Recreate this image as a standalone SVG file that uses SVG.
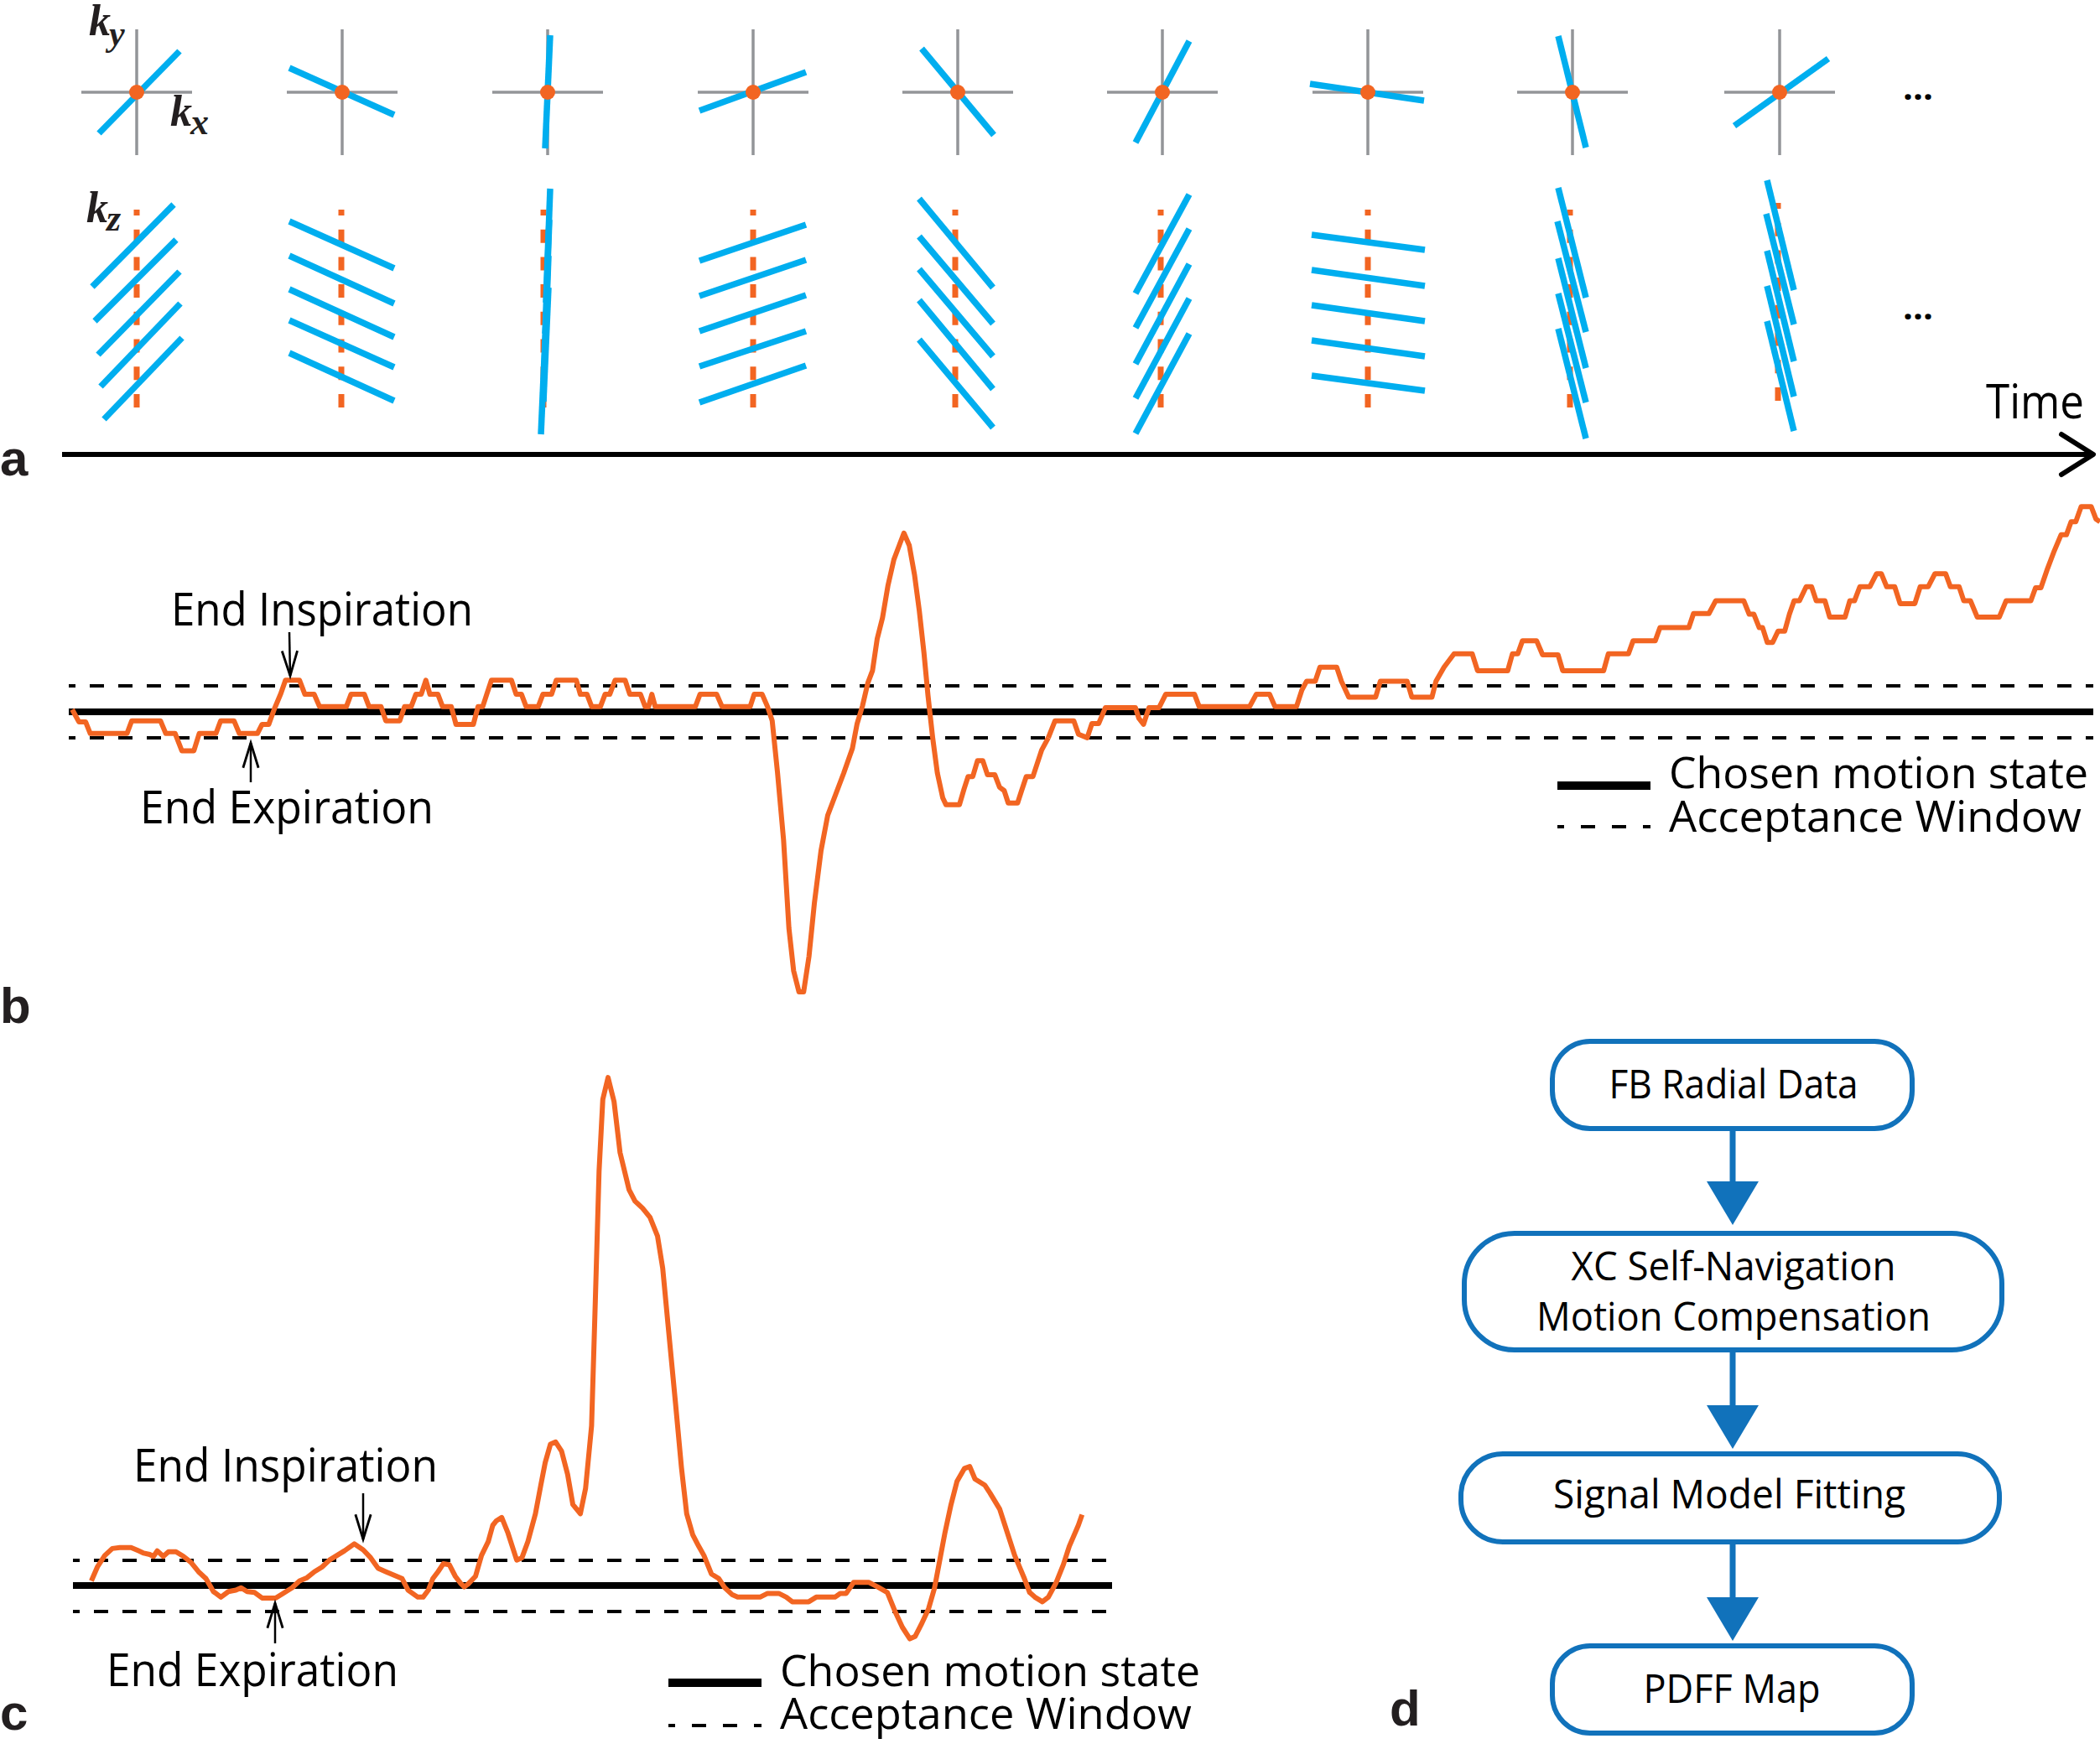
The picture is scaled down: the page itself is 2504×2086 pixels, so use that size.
<svg xmlns="http://www.w3.org/2000/svg" width="2504" height="2086" viewBox="0 0 2504 2086">
<style>
.lbl{font-family:"Liberation Sans",Arial,sans-serif;font-weight:bold;font-size:60px;fill:#231f20}
.t{font-family:"Open Sans","Noto Sans",sans-serif;fill:#000}
.k{font-family:"Liberation Serif","Times New Roman",serif;font-style:italic;font-weight:bold;font-size:52px;fill:#231f20}
.ax{stroke:#939598;stroke-width:3.5}
.ray{stroke:#00aeef;stroke-width:7.5;stroke-linecap:butt}
.kz{stroke:#f26522;stroke-width:7;stroke-dasharray:16 16.7;stroke-dashoffset:9}
.sig{fill:none;stroke:#f26522;stroke-width:6;stroke-linejoin:round;vector-effect:non-scaling-stroke}
.solid{stroke:#000;stroke-width:8}
.dash{stroke:#000;stroke-width:4;stroke-dasharray:17 17;stroke-dashoffset:9}
.thin{stroke:#000;stroke-width:2.5;fill:none}
.box{fill:#fff;stroke:#1172bb;stroke-width:6}
.flow{stroke:#1172bb;stroke-width:7}
.tri{fill:#1172bb}
</style>
<defs>
<marker id="ah" markerUnits="userSpaceOnUse" markerWidth="40" markerHeight="40" viewBox="-30 -15 35 30" refX="0" refY="0" orient="auto">
<path d="M-26,-8 L0,0 L-26,8" fill="none" stroke="#000" stroke-width="2.5"/>
</marker>
</defs>

<!-- panel labels -->
<text class="lbl" x="0" y="567">a</text>
<text class="lbl" x="0" y="1220">b</text>
<text class="lbl" x="0" y="2063">c</text>
<text class="lbl" x="1657" y="2058">d</text>

<!-- panel a: top row crosses -->
<g id="cross-row">
<g class="ax">
<line x1="97" y1="110" x2="229" y2="110"/><line x1="163" y1="35" x2="163" y2="185"/>
<line x1="342" y1="110" x2="474" y2="110"/><line x1="408" y1="35" x2="408" y2="185"/>
<line x1="587" y1="110" x2="719" y2="110"/><line x1="653" y1="35" x2="653" y2="185"/>
<line x1="832" y1="110" x2="964" y2="110"/><line x1="898" y1="35" x2="898" y2="185"/>
<line x1="1076" y1="110" x2="1208" y2="110"/><line x1="1142" y1="35" x2="1142" y2="185"/>
<line x1="1320" y1="110" x2="1452" y2="110"/><line x1="1386" y1="35" x2="1386" y2="185"/>
<line x1="1565" y1="110" x2="1697" y2="110"/><line x1="1631" y1="35" x2="1631" y2="185"/>
<line x1="1809" y1="110" x2="1941" y2="110"/><line x1="1875" y1="35" x2="1875" y2="185"/>
<line x1="2056" y1="110" x2="2188" y2="110"/><line x1="2122" y1="35" x2="2122" y2="185"/>
</g>
<g class="ray">
<line x1="118" y1="159" x2="214" y2="61"/>
<line x1="345" y1="81" x2="470" y2="137"/>
<line x1="656" y1="42" x2="650" y2="177"/>
<line x1="834" y1="132" x2="961" y2="86"/>
<line x1="1099" y1="58" x2="1185" y2="161"/>
<line x1="1418" y1="49" x2="1354" y2="170"/>
<line x1="1562" y1="100" x2="1698" y2="120"/>
<line x1="1858" y1="43" x2="1891" y2="176"/>
<line x1="2180" y1="70" x2="2068" y2="150"/>
</g>
<g fill="#f26522">
<circle cx="163" cy="110" r="9"/><circle cx="408" cy="110" r="9"/><circle cx="653" cy="110" r="9"/>
<circle cx="898" cy="110" r="9"/><circle cx="1142" cy="110" r="9"/><circle cx="1386" cy="110" r="9"/>
<circle cx="1631" cy="110" r="9"/><circle cx="1875" cy="110" r="9"/><circle cx="2122" cy="110" r="9"/>
</g>
<text class="k" x="106" y="42">k<tspan font-size="42" dx="-2" dy="12">y</tspan></text>
<text class="k" x="203" y="150">k<tspan font-size="44" dx="-2" dy="10">x</tspan></text>
<text class="t" x="2287" y="119" font-size="42" font-weight="bold" text-anchor="middle">...</text>
</g>

<!-- panel a: kz row -->
<g id="kz-row">
<g class="kz">
<line x1="163" y1="250" x2="163" y2="500"/>
<line x1="407" y1="250" x2="407" y2="500"/>
<line x1="648" y1="250" x2="648" y2="500"/>
<line x1="898" y1="250" x2="898" y2="500"/>
<line x1="1139" y1="250" x2="1139" y2="500"/>
<line x1="1384" y1="250" x2="1384" y2="500"/>
<line x1="1631" y1="250" x2="1631" y2="500"/>
<line x1="1872" y1="250" x2="1872" y2="500"/>
<line x1="2120" y1="242" x2="2120" y2="491"/>
</g>
<g class="ray">
<line x1="110" y1="342" x2="207" y2="244"/><line x1="113" y1="383" x2="210" y2="286"/><line x1="117" y1="423" x2="214" y2="324"/><line x1="120" y1="461" x2="215" y2="362"/><line x1="124" y1="500" x2="217" y2="403"/>
<line x1="345" y1="264" x2="470" y2="320"/><line x1="345" y1="305" x2="470" y2="362"/><line x1="345" y1="345" x2="470" y2="402"/><line x1="345" y1="382" x2="470" y2="438"/><line x1="345" y1="421" x2="470" y2="478"/>
<line x1="656" y1="225" x2="651" y2="361"/><line x1="655" y1="262" x2="650" y2="398"/><line x1="654" y1="305" x2="649" y2="441"/><line x1="654" y1="343" x2="648" y2="479"/><line x1="651" y1="382" x2="645" y2="518"/>
<line x1="834" y1="311" x2="961" y2="268"/><line x1="834" y1="353" x2="961" y2="310"/><line x1="834" y1="395" x2="961" y2="352"/><line x1="834" y1="437" x2="961" y2="395"/><line x1="834" y1="480" x2="961" y2="436"/>
<line x1="1096" y1="237" x2="1184" y2="343"/><line x1="1096" y1="282" x2="1184" y2="386"/><line x1="1096" y1="321" x2="1184" y2="425"/><line x1="1096" y1="358" x2="1184" y2="464"/><line x1="1096" y1="405" x2="1184" y2="510"/>
<line x1="1354" y1="350" x2="1418" y2="232"/><line x1="1354" y1="391" x2="1418" y2="273"/><line x1="1354" y1="434" x2="1418" y2="315"/><line x1="1354" y1="475" x2="1418" y2="356"/><line x1="1354" y1="517" x2="1418" y2="398"/>
<line x1="1564" y1="280" x2="1699" y2="298"/><line x1="1564" y1="322" x2="1699" y2="341"/><line x1="1564" y1="364" x2="1699" y2="383"/><line x1="1564" y1="406" x2="1699" y2="425"/><line x1="1564" y1="448" x2="1699" y2="466"/>
<line x1="1858" y1="224" x2="1891" y2="355"/><line x1="1857" y1="264" x2="1891" y2="396"/><line x1="1858" y1="308" x2="1891" y2="439"/><line x1="1858" y1="350" x2="1891" y2="480"/><line x1="1858" y1="392" x2="1891" y2="523"/>
<line x1="2107" y1="215" x2="2139" y2="346"/><line x1="2106" y1="255" x2="2139" y2="387"/><line x1="2107" y1="299" x2="2139" y2="431"/><line x1="2107" y1="341" x2="2139" y2="473"/><line x1="2107" y1="383" x2="2139" y2="514"/>
</g>
<text class="k" x="103" y="265">k<tspan font-size="44" dx="-2" dy="10">z</tspan></text>
<text class="t" x="2287" y="381" font-size="42" font-weight="bold" text-anchor="middle">...</text>
</g>

<!-- time axis -->
<g id="time-axis">
<line x1="74" y1="542" x2="2494" y2="542" stroke="#000" stroke-width="6"/>
<path d="M2458,518 L2496,542 L2458,566" fill="none" stroke="#000" stroke-width="6" stroke-linecap="round" stroke-linejoin="round"/>
<text class="t" x="2368" y="499" font-size="57" textLength="117" lengthAdjust="spacingAndGlyphs">Time</text>
</g>

<!-- panel b -->
<g id="panel-b">
<line class="dash" x1="82" y1="818" x2="2496" y2="818"/>
<line class="dash" x1="82" y1="880" x2="2496" y2="880"/>
<line class="solid" x1="82" y1="849" x2="2496" y2="849"/>
<path class="sig" transform="matrix(0.7972,0,0,0.4209,0,560)" d="M108,680 L118,715 L128,715 L135,748 L190,748 L197,712 L240,712 L248,748 L262,748 L272,797 L290,797 L298,748 L323,748 L330,712 L350,712 L358,748 L385,748 L392,722 L402,722 L410,680 L420,635 L427,597 L448,597 L456,637 L470,637 L478,672 L518,672 L525,637 L545,637 L552,672 L570,672 L577,712 L598,712 L605,672 L615,672 L622,637 L630,637 L637,597 L643,637 L655,637 L662,672 L675,672 L682,722 L708,722 L715,672 L722,672 L728,637 L735,597 L765,597 L772,637 L780,637 L787,672 L805,672 L812,637 L825,637 L832,597 L862,597 L868,637 L878,637 L885,672 L898,672 L905,637 L912,637 L920,597 L935,597 L942,637 L958,637 L965,672 L970,672 L975,637 L980,672 L1040,672 L1047,637 L1072,637 L1080,672 L1122,672 L1128,637 L1140,637 L1148,672 L1155,712 L1163,860 L1172,1050 L1180,1300 L1187,1420 L1195,1480 L1202,1480 L1210,1380 L1218,1230 L1228,1080 L1238,980 L1250,920 L1262,860 L1275,790 L1282,720 L1290,670 L1298,605 L1305,570 L1312,480 L1320,420 L1328,330 L1337,255 L1345,215 L1352,180 L1360,215 L1368,300 L1375,400 L1382,520 L1388,640 L1395,760 L1402,860 L1410,930 L1415,950 L1435,950 L1442,905 L1448,870 L1455,870 L1462,825 L1470,825 L1477,865 L1488,865 L1495,900 L1502,910 L1508,945 L1522,945 L1528,910 L1535,870 L1545,870 L1558,795 L1568,760"/>
<path class="sig" transform="matrix(0.7997,0,0,0.4209,1250,560)" d="M0,760 L10,712 L38,712 L45,750 L58,760 L65,720 L75,720 L85,675 L130,675 L135,705 L142,722 L150,675 L165,675 L175,637 L218,637 L225,672 L300,672 L310,637 L330,637 L338,672 L370,672 L378,625 L385,600 L398,600 L405,560 L430,560 L437,600 L448,645 L488,645 L495,600 L535,600 L542,645 L572,645 L578,600 L590,560 L605,522 L632,522 L640,570 L685,570 L692,522 L700,522 L707,485 L728,485 L737,525 L760,525 L767,570 L828,570 L835,522 L865,522 L872,485 L905,485 L912,448 L955,448 L962,408 L985,408 L995,372 L1037,372 L1045,410 L1052,410 L1060,448 L1065,448 L1072,490 L1080,490 L1088,458 L1098,458 L1105,410 L1112,372 L1120,372 L1130,332 L1138,332 L1145,372 L1158,372 L1165,418 L1188,418 L1195,372 L1202,372 L1210,332 L1225,332 L1235,295 L1242,295 L1250,332 L1262,332 L1270,380 L1292,380 L1300,332 L1312,332 L1322,295 L1338,295 L1345,332 L1358,332 L1365,372 L1375,372 L1385,418 L1418,418 L1428,372 L1465,372 L1472,335 L1480,335 L1490,280 L1500,230 L1510,185 L1518,185 L1525,148 L1532,148 L1540,105 L1555,105 L1562,140 L1568,148"/>
<text class="t" x="204" y="746" font-size="55" textLength="360" lengthAdjust="spacingAndGlyphs">End Inspiration</text>
<line class="thin" x1="345" y1="754" x2="346" y2="806" marker-end="url(#ah)"/>
<text class="t" x="167" y="982" font-size="55" textLength="350" lengthAdjust="spacingAndGlyphs">End Expiration</text>
<line class="thin" x1="299" y1="933" x2="299" y2="886" marker-end="url(#ah)"/>
<line x1="1857" y1="937" x2="1968" y2="937" stroke="#000" stroke-width="10"/>
<line x1="1857" y1="986" x2="1968" y2="986" stroke="#000" stroke-width="4" stroke-dasharray="17 20" stroke-dashoffset="9"/>
<text class="t" x="1990" y="940" font-size="52" textLength="500" lengthAdjust="spacingAndGlyphs">Chosen motion state</text>
<text class="t" x="1990" y="992" font-size="52" textLength="492" lengthAdjust="spacingAndGlyphs">Acceptance Window</text>
</g>

<!-- panel c -->
<g id="panel-c">
<line class="dash" x1="87" y1="1861" x2="1326" y2="1861"/>
<line class="dash" x1="87" y1="1922" x2="1326" y2="1922"/>
<line class="solid" x1="87" y1="1891" x2="1326" y2="1891"/>
<path class="sig" transform="matrix(0.8929,0,0,0.5523,0,1220)" d="M122,1205 L130,1175 L140,1150 L150,1135 L160,1133 L175,1133 L185,1140 L192,1145 L200,1148 L205,1152 L210,1140 L218,1152 L225,1142 L235,1142 L245,1152 L255,1165 L265,1185 L275,1200 L285,1228 L295,1240 L305,1228 L315,1225 L322,1220 L330,1228 L340,1230 L350,1242 L368,1242 L378,1232 L390,1220 L400,1205 L410,1198 L420,1185 L430,1175 L440,1160 L450,1150 L460,1140 L473,1125 L485,1138 L495,1155 L505,1178 L515,1185 L525,1192 L537,1200 L545,1225 L558,1240 L565,1240 L572,1225 L578,1200 L585,1185 L592,1168 L600,1170 L608,1195 L615,1210 L620,1218 L625,1212 L635,1195 L643,1150 L652,1120 L658,1085 L663,1075 L670,1068 L678,1100 L685,1135 L690,1160 L697,1155 L705,1120 L715,1060 L722,1000 L728,950 L735,910 L742,905 L750,925 L758,975 L765,1040 L775,1060 L782,1005 L790,870 L795,600 L800,320 L805,165 L812,118 L820,170 L828,280 L840,360 L848,385 L858,400 L868,420 L878,460 L885,530 L892,650 L902,820 L910,960 L917,1060 L925,1105 L933,1130 L940,1150 L950,1190 L960,1200 L968,1220 L978,1235 L985,1240 L1015,1240 L1025,1232 L1040,1232 L1050,1240 L1058,1250 L1080,1250 L1090,1240 L1115,1240 L1122,1232 L1130,1232 L1140,1208 L1160,1208 L1172,1218 L1185,1230 L1195,1270 L1205,1305 L1215,1330 L1222,1325 L1230,1300 L1240,1265 L1248,1220 L1255,1160 L1262,1100 L1270,1040 L1278,990 L1288,962 L1295,958 L1302,985 L1315,998 L1322,1015 L1335,1050 L1345,1100 L1355,1150 L1368,1200 L1375,1230 L1382,1240 L1392,1250 L1400,1240 L1410,1210 L1420,1170 L1428,1130 L1440,1085 L1445,1062"/>
<text class="t" x="159" y="1767" font-size="55" textLength="363" lengthAdjust="spacingAndGlyphs">End Inspiration</text>
<line class="thin" x1="433" y1="1781" x2="433" y2="1836" marker-end="url(#ah)"/>
<text class="t" x="127" y="2011" font-size="55" textLength="348" lengthAdjust="spacingAndGlyphs">End Expiration</text>
<line class="thin" x1="328" y1="1960" x2="328" y2="1912" marker-end="url(#ah)"/>
<line x1="797" y1="2007" x2="908" y2="2007" stroke="#000" stroke-width="10"/>
<line x1="797" y1="2058" x2="908" y2="2058" stroke="#000" stroke-width="4" stroke-dasharray="17 20" stroke-dashoffset="9"/>
<text class="t" x="930" y="2011" font-size="52" textLength="501" lengthAdjust="spacingAndGlyphs">Chosen motion state</text>
<text class="t" x="930" y="2062" font-size="52" textLength="491" lengthAdjust="spacingAndGlyphs">Acceptance Window</text>
</g>

<!-- panel d flowchart -->
<g id="node-fb">
<rect class="box" x="1851" y="1242" width="429" height="104" rx="45" ry="45"/>
<text class="t" x="2067" y="1310" font-size="48" text-anchor="middle" textLength="297" lengthAdjust="spacingAndGlyphs">FB Radial Data</text>
</g>
<g id="node-xc">
<rect class="box" x="1746" y="1471" width="641" height="139" rx="60" ry="60"/>
<text class="t" x="2067" y="1527" font-size="48" text-anchor="middle" textLength="387" lengthAdjust="spacingAndGlyphs">XC Self-Navigation</text>
<text class="t" x="2067" y="1587" font-size="48" text-anchor="middle" textLength="470" lengthAdjust="spacingAndGlyphs">Motion Compensation</text>
</g>
<g id="node-fit">
<rect class="box" x="1742" y="1734" width="642" height="105" rx="50" ry="50"/>
<text class="t" x="2062" y="1799" font-size="48" text-anchor="middle" textLength="420" lengthAdjust="spacingAndGlyphs">Signal Model Fitting</text>
</g>
<g id="node-pdff">
<rect class="box" x="1851" y="1963" width="429" height="104" rx="45" ry="45"/>
<text class="t" x="2065" y="2031" font-size="48" text-anchor="middle" textLength="211" lengthAdjust="spacingAndGlyphs">PDFF Map</text>
</g>
<g id="connectors">
<line class="flow" x1="2066" y1="1349" x2="2066" y2="1412"/>
<polygon class="tri" points="2035,1409 2097,1409 2066,1461"/>
<line class="flow" x1="2066" y1="1613" x2="2066" y2="1679"/>
<polygon class="tri" points="2035,1676 2097,1676 2066,1728"/>
<line class="flow" x1="2066" y1="1842" x2="2066" y2="1908"/>
<polygon class="tri" points="2035,1905 2097,1905 2066,1957"/>
</g>
</svg>
